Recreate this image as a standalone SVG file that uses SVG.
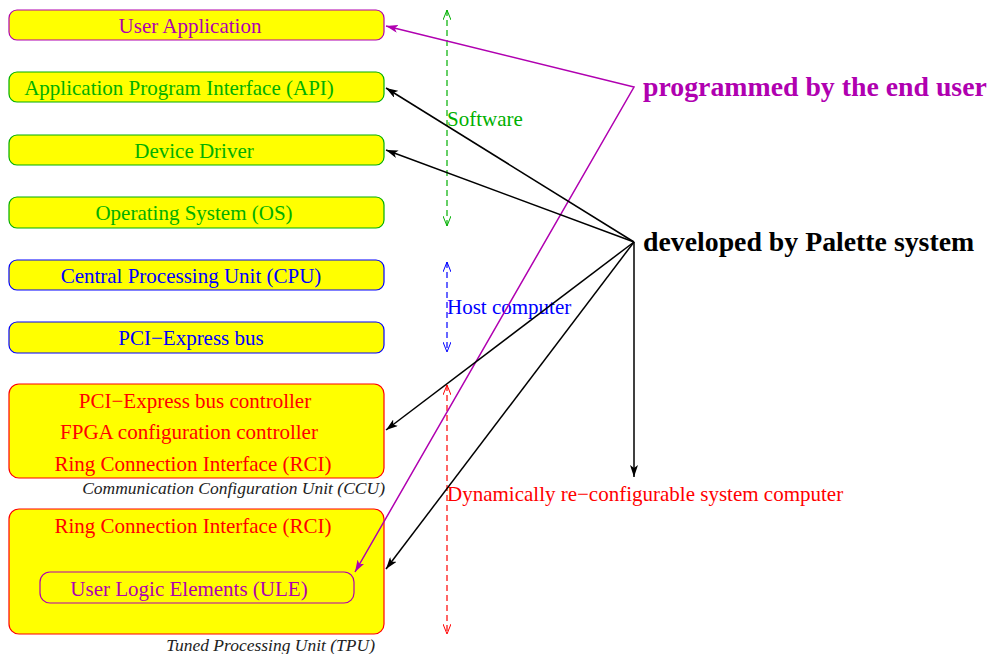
<svg xmlns="http://www.w3.org/2000/svg" width="990" height="654" viewBox="0 0 990 654">
<defs>
<style>
.box{fill:#ffff00;stroke-width:1.2}
.t{font-family:"Liberation Serif",serif;font-size:21px;text-anchor:middle}
.cap{font-family:"Liberation Serif",serif;font-size:17.5px;font-style:italic;fill:#222;text-anchor:end}
.big{font-family:"Liberation Serif",serif;font-size:27.8px;font-weight:bold}
.lbl{font-family:"Liberation Serif",serif;font-size:21px}
.blk{stroke:#000;stroke-width:1.5;fill:none;marker-end:url(#ab)}
.dash{stroke-width:1.2;stroke-dasharray:6 4;fill:none}
</style>
<marker id="ab" viewBox="0 0 12 8" refX="12" refY="4" markerWidth="12" markerHeight="8" markerUnits="userSpaceOnUse" orient="auto"><path d="M0,0 L12,4 L0,8 L3,4 Z" fill="#000"/></marker>
<marker id="am" viewBox="0 0 12 8" refX="12" refY="4" markerWidth="12" markerHeight="8" markerUnits="userSpaceOnUse" orient="auto-start-reverse"><path d="M0,0 L12,4 L0,8 L3,4 Z" fill="#b000b0"/></marker>
<marker id="og" viewBox="0 0 10 8" refX="10" refY="4" markerWidth="10" markerHeight="8" markerUnits="userSpaceOnUse" orient="auto-start-reverse"><path d="M0,0 L10,4 L0,8" fill="none" stroke="#00b000" stroke-width="1"/></marker>
<marker id="ob" viewBox="0 0 10 8" refX="10" refY="4" markerWidth="10" markerHeight="8" markerUnits="userSpaceOnUse" orient="auto-start-reverse"><path d="M0,0 L10,4 L0,8" fill="none" stroke="#0000ff" stroke-width="1"/></marker>
<marker id="or" viewBox="0 0 10 8" refX="10" refY="4" markerWidth="10" markerHeight="8" markerUnits="userSpaceOnUse" orient="auto-start-reverse"><path d="M0,0 L10,4 L0,8" fill="none" stroke="#ff0000" stroke-width="1"/></marker>
</defs>
<rect width="990" height="654" fill="#fff"/>
<g id="user-app"><rect class="box" x="9" y="10" width="375" height="30" rx="8" stroke="#b000b0"/><text class="t" x="190" y="33" fill="#b000b0">User Application</text></g>
<g id="api"><rect class="box" x="9" y="72" width="375" height="30" rx="8" stroke="#00b000"/><text class="t" x="179" y="95" fill="#00b000">Application Program Interface (API)</text></g>
<g id="driver"><rect class="box" x="9" y="135" width="375" height="30" rx="8" stroke="#00b000"/><text class="t" x="194" y="158" fill="#00b000">Device Driver</text></g>
<g id="os"><rect class="box" x="9" y="197" width="375" height="31" rx="8" stroke="#00b000"/><text class="t" x="194" y="220" fill="#00b000">Operating System (OS)</text></g>
<g id="cpu"><rect class="box" x="9" y="260" width="375" height="30" rx="8" stroke="#0000ff"/><text class="t" x="191" y="283" fill="#0000ff">Central Processing Unit (CPU)</text></g>
<g id="pcie"><rect class="box" x="9" y="322" width="375" height="31" rx="8" stroke="#0000ff"/><text class="t" x="191" y="345" fill="#0000ff">PCI−Express bus</text></g>
<g id="ccu"><rect class="box" x="9" y="384" width="375" height="94" rx="10" stroke="#ff0000"/>
<text class="t" x="195" y="408" fill="#ff0000">PCI−Express bus controller</text>
<text class="t" x="189" y="439" fill="#ff0000">FPGA configuration controller</text>
<text class="t" x="193" y="471" fill="#ff0000">Ring Connection Interface (RCI)</text>
<text class="cap" x="385" y="494">Communication Configuration Unit (CCU)</text></g>
<g id="tpu"><rect class="box" x="9" y="509" width="375" height="125" rx="10" stroke="#ff0000"/>
<text class="t" x="193" y="533" fill="#ff0000">Ring Connection Interface (RCI)</text>
<text class="cap" x="375" y="651">Tuned Processing Unit (TPU)</text></g>
<g id="ule"><rect x="40" y="572" width="314" height="31" rx="10" fill="none" stroke="#b000b0" stroke-width="1.2"/><text class="t" x="189" y="596" fill="#b000b0">User Logic Elements (ULE)</text></g>
<g id="labels">
<text class="lbl" x="447" y="126" fill="#00b000">Software</text>
<text class="lbl" x="447" y="314" fill="#0000ff">Host computer</text>
<text class="lbl" x="447" y="501" fill="#ff0000">Dynamically re−configurable system computer</text>
<text class="big" x="643" y="96" fill="#b000b0">programmed by the end user</text>
<text class="big" x="643" y="251" fill="#000">developed by Palette system</text>
</g>
<g id="connectors">
<line class="dash" x1="447" y1="10" x2="447" y2="226" stroke="#00b000" marker-start="url(#og)" marker-end="url(#og)"/>
<line class="dash" x1="447" y1="262" x2="447" y2="352" stroke="#0000ff" marker-start="url(#ob)" marker-end="url(#ob)"/>
<line class="dash" x1="447" y1="385" x2="447" y2="634" stroke="#ff0000" marker-start="url(#or)" marker-end="url(#or)"/>
<polyline points="386,26 634,87 355,572" fill="none" stroke="#b000b0" stroke-width="1.5" marker-start="url(#am)" marker-end="url(#am)"/>
<line class="blk" x1="634" y1="242" x2="386" y2="88"/>
<line class="blk" x1="634" y1="242" x2="386" y2="150"/>
<line class="blk" x1="634" y1="242" x2="386" y2="430"/>
<line class="blk" x1="634" y1="242" x2="386" y2="569"/>
<line class="blk" x1="634" y1="242" x2="634" y2="477"/>
</g>
</svg>
